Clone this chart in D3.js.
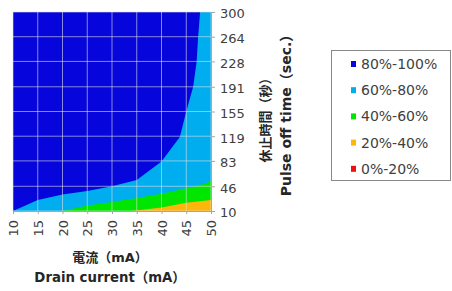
<!DOCTYPE html>
<html>
<head>
<meta charset="utf-8">
<script src="https://cdn.jsdelivr.net/npm/d3@7"></script>
<style>
body { margin: 0; background: #fff; }
.tick text { font: 13px "DejaVu Sans", "Noto Sans CJK JP", sans-serif; fill: #404040; }
.axisTitle { font: bold 13px "DejaVu Sans", "Noto Sans CJK JP", sans-serif; fill: #262626; }
.legendText { font: 14px "DejaVu Sans", sans-serif; fill: #404040; }
.grid { stroke: #e0e0e0; stroke-opacity: 0.6; stroke-width: 1px; }
</style>
</head>
<body>
<div id="THE_CONTAINER"></div>
<script>
// drain current categories (mA) and pulse off time levels (sec.)
const currents = [10, 15, 20, 25, 30, 35, 40, 45, 50];
const offTimes = [10, 46, 83, 119, 155, 191, 228, 264, 300];

// band legend, top to bottom
const bandNames = ["80%-100%", "60%-80%", "40%-60%", "20%-40%", "0%-20%"];
const bandColors = ["#0505dc", "#00adef", "#00e600", "#ffb60a", "#ee1111"];

// contour boundaries: [current mA, off time sec]
const edge80 = [[10, 10], [15, 26], [20, 34], [25, 39], [30, 46], [35, 55], [40, 82],
                [43.7, 118], [45, 155], [46.4, 191], [47.1, 228], [47.4, 264], [47.8, 300], [50, 300]];
const edge60 = [[20, 10], [25, 18], [30, 23], [35, 29], [40, 35], [45, 43], [49, 50], [50, 54]];
const edge40 = [[34, 10], [40, 15], [45, 22], [50, 26]];

const svg = d3.select("#THE_CONTAINER")
  .append("svg")
  .attr("width", 452)
  .attr("height", 291);

const x = d3.scaleLinear().domain([10, 50]).range([13, 211]);
const y = d3.scaleLinear().domain([10, 300]).range([211, 12]);

const plot = svg.append("g");

// base band fills the whole plot
plot.append("rect")
  .attr("x", x(10)).attr("y", y(300))
  .attr("width", x(50) - x(10)).attr("height", y(10) - y(300))
  .attr("fill", bandColors[0]);

const area = d3.area()
  .x(d => x(d[0]))
  .y0(y(10))
  .y1(d => y(d[1]));

[edge80, edge60, edge40].forEach((e, i) => {
  plot.append("path")
    .attr("d", area(e))
    .attr("fill", bandColors[i + 1]);
});

// gridlines
plot.selectAll(".vgrid")
  .data(currents)
  .enter()
  .append("line")
  .attr("class", "grid")
  .attr("x1", d => x(d)).attr("x2", d => x(d))
  .attr("y1", y(300)).attr("y2", y(10));

plot.selectAll(".hgrid")
  .data(offTimes)
  .enter()
  .append("line")
  .attr("class", "grid")
  .attr("x1", x(10)).attr("x2", x(50))
  .attr("y1", d => y(d)).attr("y2", d => y(d));

// axes
const xAxis = svg.append("g")
  .attr("transform", `translate(0,${y(10)})`)
  .call(d3.axisBottom(x).tickValues(currents).tickSize(3).tickSizeOuter(0));
xAxis.selectAll(".tick text")
  .attr("transform", "rotate(-90)")
  .attr("text-anchor", "end")
  .attr("x", -9)
  .attr("y", 0)
  .attr("dy", "0.35em");

const yAxis = svg.append("g")
  .attr("transform", `translate(${x(50)},0)`)
  .call(d3.axisRight(y).tickValues(offTimes).tickSize(4).tickSizeOuter(0));
yAxis.selectAll(".tick text").attr("x", 9).attr("dy", "0.45em");

svg.selectAll(".domain, .tick line").attr("stroke", "#a6a6a6");

// axis titles
svg.append("text").attr("class", "axisTitle")
  .attr("x", 110).attr("y", 262)
  .attr("text-anchor", "middle")
  .text("電流（mA）");
svg.append("text").attr("class", "axisTitle")
  .attr("x", 110).attr("y", 282)
  .attr("text-anchor", "middle")
  .style("font-size", "13.3px")
  .text("Drain current（mA）");

svg.append("text").attr("class", "axisTitle")
  .attr("transform", "translate(270,117) rotate(-90)")
  .attr("text-anchor", "middle")
  .text("休止時間（秒）");
svg.append("text").attr("class", "axisTitle")
  .attr("transform", "translate(291,112) rotate(-90)")
  .attr("text-anchor", "middle")
  .style("font-size", "14px")
  .text("Pulse off time（sec.）");

// legend
const legend = svg.append("g");
legend.append("rect")
  .attr("x", 331.5).attr("y", 50.5)
  .attr("width", 119).attr("height", 130)
  .attr("fill", "none")
  .attr("stroke", "#888")
  .attr("stroke-width", 1);

const items = legend.selectAll(".item")
  .data(bandNames)
  .enter()
  .append("g")
  .attr("transform", (d, i) => `translate(351,${64 + i * 26.2})`);
items.append("rect")
  .attr("x", 0).attr("y", -3)
  .attr("width", 5).attr("height", 6)
  .attr("fill", (d, i) => bandColors[i]);
items.append("text")
  .attr("class", "legendText")
  .attr("x", 10).attr("dy", "0.36em")
  .text(d => d);
</script>
</body>
</html>
